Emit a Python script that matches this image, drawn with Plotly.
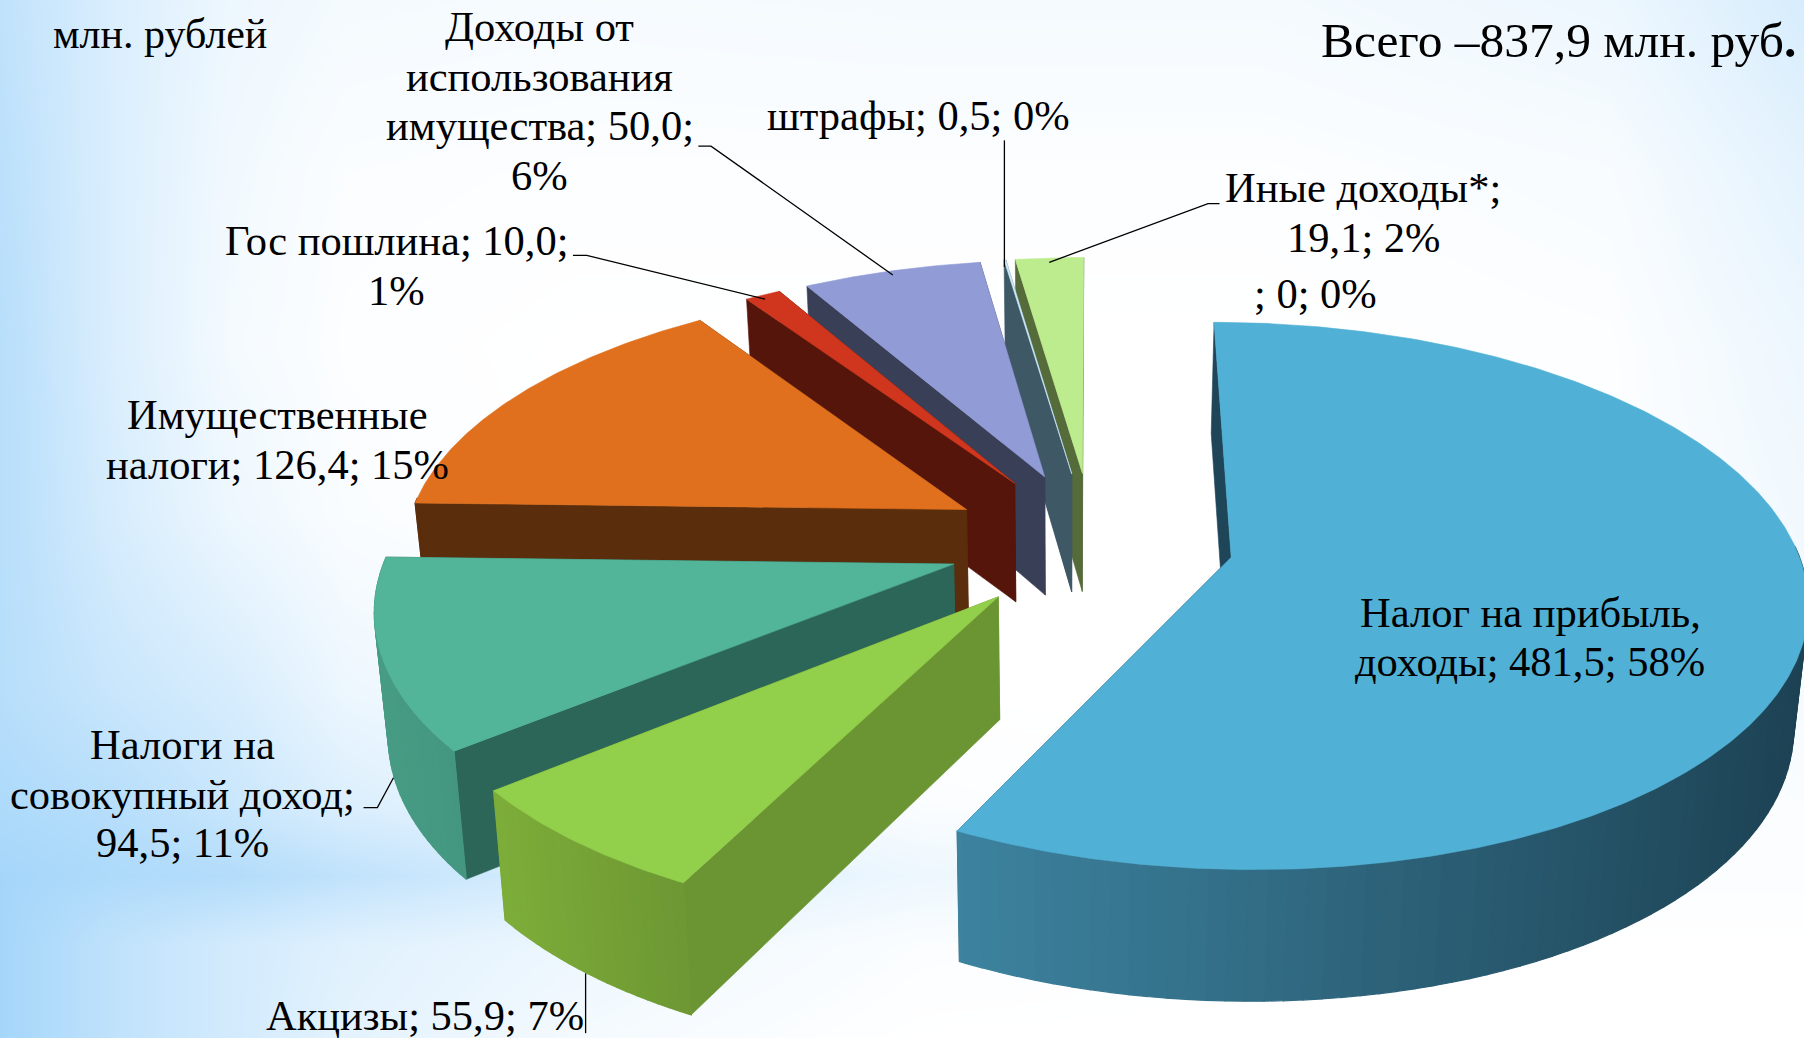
import numpy as np
import plotly.graph_objects as go

# ---- data ----
categories = ["Налог на прибыль, доходы", "Акцизы", "Налоги на совокупный доход",
              "Имущественные налоги", "Гос пошлина", "Доходы от использования имущества",
              "штрафы", "Иные доходы*", ""]
values = [481.5, 55.9, 94.5, 126.4, 10.0, 50.0, 0.5, 19.1, 0.0]
value_text = ["481,5", "55,9", "94,5", "126,4", "10,0", "50,0", "0,5", "19,1", "0"]
percents = [58, 7, 11, 15, 1, 6, 0, 2, 0]
total_text = "Всего –837,9 млн. руб"
unit_text = "млн. рублей"

# ---- style ----
top_colors = ["#51B0D5", "#92CF4A", "#52B498", "#E0701D", "#CF361D", "#919BD6", "#CFEFFA", "#BDEC8E", "#BBBBBB"]
wall_colors = ["#1F4558", "#6B9433", "#2C6658", "#5A2D0C", "#55150B", "#3A3F58", "#3E5866", "#566B3A", "#777777"]
arc_left = ["#3D839F", "#7DAD39", "#479C84", "#5A2D0C", "#55150B", "#3A3F58", "#3E5866", "#566B3A", "#777777"]
arc_right = ["#1D4254", "#6D9733", "#449680", "#5A2D0C", "#55150B", "#3A3F58", "#3E5866", "#566B3A", "#777777"]
explode = [0.25, 0.26, 0.258, 0.26, 0.27, 0.27, 0.27, 0.27, 0.27]

W, H = 1804, 1038
S = 1804 / 1568
CX, CY = 950 * S, 471 * S
K = 490 * S
TILT = 0.468
PERSP = 0.14
DEPTH = 105 * S
BOTTOM_SCALE = 0.98
BOTTOM_X0 = 930 * S


def project(X, Y, bottom=False):
    X, Y = np.asarray(X, float), np.asarray(Y, float)
    w = 1 + PERSP * Y
    sx = CX + K * X / w
    sy = CY - K * TILT * Y / w
    if bottom:
        sx = BOTTOM_X0 + (sx - BOTTOM_X0) * BOTTOM_SCALE
        sy = sy + DEPTH * (1 - 0.085 * Y)
    return sx, sy


def hex_mix(a, b, t):
    ca = [int(a[i:i + 2], 16) for i in (1, 3, 5)]
    cb = [int(b[i:i + 2], 16) for i in (1, 3, 5)]
    return "rgb(%d,%d,%d)" % tuple(round(x + (y - x) * t) for x, y in zip(ca, cb))


fig = go.Figure()

# ---- background wash ----
bg_x = [0, 100, 200, 300, 500, 800, 1100, 1400, 1568]
bg_y = [0, 150, 300, 450, 600, 700, 760, 820, 902]
bg_z = [
    [.70, .40, .20, .12, .10, .12, .12, .20, .45],
    [.75, .40, .15, .05, .03, .03, .03, .08, .30],
    [.80, .40, .12, .03, .00, .00, .00, .03, .20],
    [.80, .45, .20, .06, .00, .00, .00, .02, .15],
    [.80, .60, .45, .20, .05, .00, .00, .00, .10],
    [.90, .80, .60, .40, .20, .05, .00, .00, .05],
    [1.0, .90, .85, .70, .45, .20, .15, .05, .05],
    [1.0, .70, .50, .35, .20, .05, .00, .00, .00],
    [1.0, .70, .50, .30, .12, .00, .00, .00, .00],
]
fine_x = np.linspace(0, 1568, 158)
fine_y = np.linspace(0, 902, 91)
z_cols = np.array([np.interp(fine_x, bg_x, row) for row in bg_z])
z_fine = np.array([np.interp(fine_y, bg_y, z_cols[:, j]) for j in range(len(fine_x))]).T
fig.add_trace(go.Heatmap(x=fine_x * S, y=fine_y * S, z=z_fine, zmin=0, zmax=1, zsmooth="best",
                         colorscale=[[0, "#FFFFFF"], [1, "#A5D6FA"]], showscale=False, hoverinfo="skip"))


def poly(xs, ys, color, lw=0.6):
    fig.add_trace(go.Scatter(x=xs, y=ys, mode="lines", fill="toself", fillcolor=color,
                             line=dict(color=color, width=lw), hoverinfo="skip", showlegend=False))


# ---- pie geometry computed from the values ----
total = sum(values)
edges = np.concatenate([[0], np.cumsum(values)]) / total * 2 * np.pi
slices = []
for i, v in enumerate(values):
    if v <= 0:
        continue
    a0, a1 = edges[i], edges[i + 1]
    mid = (a0 + a1) / 2
    slices.append((i, a0, a1, explode[i] * np.sin(mid), explode[i] * np.cos(mid)))

# paint from the far slices to the near ones
for i, a0, a1, ax, ay in sorted(slices, key=lambda s: -s[0]):
    n = max(4, int((a1 - a0) / 0.01))
    t = np.linspace(a0, a1, n + 1)
    X = ax + np.sin(t)
    Y = ay + np.cos(t)
    tx, ty = project(X, Y)
    bx, by = project(X, Y, bottom=True)
    atx, aty = project(ax, ay)
    abx, aby = project(ax, ay, bottom=True)
    # radial walls
    for k in (0, -1):
        poly([float(atx), tx[k], bx[k], float(abx), float(atx)],
             [float(aty), ty[k], by[k], float(aby), float(aty)], wall_colors[i])
    # outer wall facing the viewer, shaded left to right
    front = np.where(np.cos(t) < 0.05)[0]
    if len(front) > 1:
        xmin, xmax = tx[front].min(), tx[front].max()
        step = max(2, len(front) // 60)
        for k in range(front[0], front[-1], step):
            e = min(k + step, front[-1])
            shade = (0.5 * (tx[k] + tx[e]) - xmin) / max(xmax - xmin, 1)
            seg_x = list(tx[k:e + 1]) + list(bx[k:e + 1][::-1])
            seg_y = list(ty[k:e + 1]) + list(by[k:e + 1][::-1])
            poly(seg_x + seg_x[:1], seg_y + seg_y[:1], hex_mix(arc_left[i], arc_right[i], shade), 1.2)
    # top face
    poly([float(atx)] + list(tx) + [float(atx)], [float(aty)] + list(ty) + [float(aty)], top_colors[i])

# ---- leader lines ----
leaders = [
    [(607, 127), (618, 127), (776, 239)],
    [(873, 122), (873, 232)],
    [(1060, 177), (1050, 177), (912, 228)],
    [(498, 222), (510, 222), (665, 260)],
    [(316, 702), (328, 702), (342, 676)],
    [(509, 898), (509, 846)],
]
for pts in leaders:
    fig.add_trace(go.Scatter(x=[p[0] * S for p in pts], y=[p[1] * S for p in pts], mode="lines",
                             line=dict(color="#000000", width=1.3), hoverinfo="skip", showlegend=False))

# ---- labels ----
FONT = "Liberation Serif"


def label(text, x, y, size=42.5, anchor="center"):
    fig.add_annotation(x=x * S, y=(y - 1.7) * S, text=text, showarrow=False, xanchor=anchor, yanchor="middle",
                       font=dict(family=FONT, size=size, color="#000000"), xref="x", yref="y")


def tail(i):
    return f"{value_text[i]}; {percents[i]}%"


label(unit_text, 139, 31, 42)
label(f"{total_text}<b>.</b>", 1563, 37, 49.5, "right")
label("Доходы от", 469, 25)
label("использования", 469, 68)
label(f"имущества; {value_text[5]};", 469, 111)
label(f"{percents[5]}%", 469, 154)
label(f"{categories[6]}; {tail(6)}", 798, 102)
label("Иные доходы*;", 1185, 165)
label(tail(7), 1185, 208)
label(f"; {tail(8)}", 1143, 257)
label(f"Гос пошлина; {value_text[4]};", 345, 211)
label(f"{percents[4]}%", 345, 254)
label("Имущественные", 241, 362)
label(f"налоги; {tail(3)}", 241, 405)
label("Налог на прибыль,", 1330, 534)
label(f"доходы; {tail(0)}", 1330, 577)
label("Налоги на", 159, 649)
label("совокупный доход;", 159, 692)
label(tail(2), 159, 734)
label(f"{categories[1]}; {tail(1)}", 369, 884)

fig.update_layout(
    width=W, height=H, margin=dict(l=0, r=0, t=0, b=0), showlegend=False,
    paper_bgcolor="#FFFFFF", plot_bgcolor="#FFFFFF",
    xaxis=dict(range=[0, W], visible=False, fixedrange=True),
    yaxis=dict(range=[H, 0], visible=False, fixedrange=True),
)
fig.write_html("out.html", config={"displayModeBar": False},
               post_script="document.body.style.margin='0';document.documentElement.style.overflow='hidden';")
